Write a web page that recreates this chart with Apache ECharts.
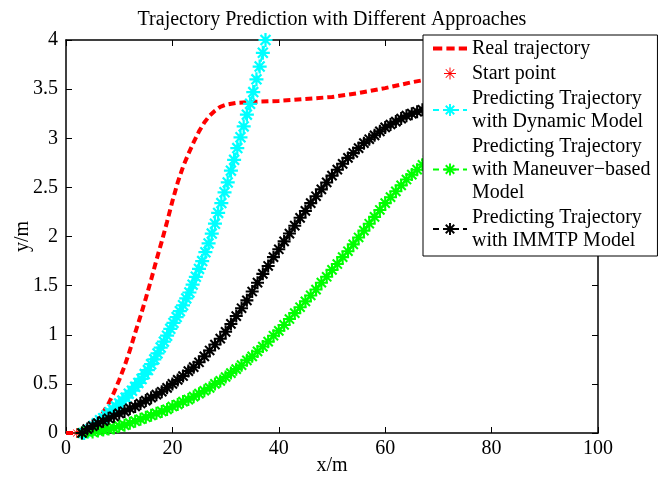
<!DOCTYPE html>
<html>
<head>
<meta charset="utf-8">
<script src="https://cdn.jsdelivr.net/npm/echarts@6/dist/echarts.min.js"></script>
<style>html,body{margin:0;padding:0;background:#fff}#c{width:664px;height:477px}</style>
</head>
<body>
<div id="c"></div>
<script>
const titleText = 'Trajectory Prediction with Different Approaches';
const xTicks = [0, 20, 40, 60, 80, 100];
const yTicks = [0, 0.5, 1, 1.5, 2, 2.5, 3, 3.5, 4];
const seriesNames = ['Real trajectory', 'Start point', 'Dynamic', 'Maneuver', 'IMMTP'];
const legendLabels = {
  'Real trajectory': 'Real trajectory',
  'Start point': 'Start point',
  'Dynamic': 'Predicting Trajectory\nwith Dynamic Model',
  'Maneuver': 'Predicting Trajectory\nwith Maneuver\u2212based\nModel',
  'IMMTP': 'Predicting Trajectory\nwith IMMTP Model'
};

const realTrajectory = [
  [0,0.00],[2,0.00],[4,0.03],[5,0.07],[6,0.13],[7,0.21],[8,0.30],[9,0.41],[10,0.54],
  [11,0.68],[12,0.84],[13,1.02],[14,1.19],[15,1.37],[16,1.56],[17,1.76],[18,1.95],
  [19,2.15],[20,2.36],[21,2.55],[22,2.71],[23,2.84],[24,2.96],[25,3.07],[26,3.16],
  [27,3.23],[28,3.28],[29,3.32],[30,3.34],[32,3.36],[35,3.37],[40,3.38],[45,3.40],
  [50,3.42],[55,3.46],[60,3.51],[65,3.57],[70,3.62],[75,3.66]
];
const startPoint = [[2,0]];
const dynamicModel = [
  [3.4,0.00],[4.0,0.02],[4.6,0.04],[5.2,0.07],[5.8,0.10],[6.4,0.13],[7.0,0.15],[7.6,0.18],
  [8.2,0.21],[8.8,0.24],[9.4,0.27],[10.0,0.30],[10.6,0.33],[11.2,0.36],[11.8,0.40],[12.4,0.43],
  [13.0,0.47],[13.6,0.51],[14.2,0.55],[14.8,0.60],[15.4,0.64],[16.0,0.70],[16.6,0.75],[17.2,0.81],
  [17.8,0.87],[18.4,0.93],[19.0,0.99],[19.6,1.06],[20.2,1.12],[20.8,1.18],[21.4,1.24],[22.0,1.30],
  [22.6,1.37],[23.2,1.43],[23.8,1.51],[24.4,1.59],[25.0,1.67],[25.6,1.75],[26.2,1.84],[26.8,1.93],
  [27.4,2.03],[28.0,2.13],[28.6,2.24],[29.2,2.34],[29.8,2.45],[30.4,2.55],[31.0,2.67],[31.6,2.78],
  [32.2,2.90],[32.8,3.01],[33.4,3.12],[34.0,3.24],[34.6,3.35],[35.2,3.47],[35.8,3.60],[36.4,3.73],
  [37.0,3.87],[37.5,4.00]
];
const maneuverModel = [
  [3,0.00],[4,0.01],[5,0.01],[6,0.02],[7,0.03],[8,0.04],[9,0.05],[10,0.07],[11,0.08],[12,0.10],
  [13,0.12],[14,0.14],[15,0.16],[16,0.18],[17,0.20],[18,0.22],[19,0.24],[20,0.27],[21,0.29],
  [22,0.32],[23,0.34],[24,0.37],[25,0.40],[26,0.43],[27,0.46],[28,0.50],[29,0.53],[30,0.57],
  [31,0.61],[32,0.65],[33,0.69],[34,0.74],[35,0.78],[36,0.83],[37,0.88],[38,0.93],[39,0.99],
  [40,1.04],[41,1.10],[42,1.16],[43,1.22],[44,1.28],[45,1.34],[46,1.40],[47,1.46],[48,1.53],
  [49,1.59],[50,1.66],[51,1.72],[52,1.79],[53,1.85],[54,1.92],[55,1.99],[56,2.06],[57,2.13],
  [58,2.20],[59,2.27],[60,2.34],[61,2.40],[62,2.46],[63,2.52],[64,2.58],[65,2.63],[66,2.68],
  [67,2.73],[68,2.78]
];
const immtpModel = [
  [3,0.00],[4,0.04],[5,0.07],[6,0.10],[7,0.12],[8,0.15],[9,0.17],[10,0.20],[11,0.22],[12,0.25],
  [13,0.27],[14,0.30],[15,0.33],[16,0.36],[17,0.39],[18,0.42],[19,0.46],[20,0.50],[21,0.54],
  [22,0.58],[23,0.63],[24,0.67],[25,0.72],[26,0.78],[27,0.84],[28,0.90],[29,0.96],[30,1.03],
  [31,1.11],[32,1.19],[33,1.27],[34,1.35],[35,1.44],[36,1.53],[37,1.62],[38,1.70],[39,1.79],
  [40,1.87],[41,1.95],[42,2.03],[43,2.11],[44,2.19],[45,2.26],[46,2.34],[47,2.41],[48,2.48],
  [49,2.55],[50,2.62],[51,2.68],[52,2.74],[53,2.80],[54,2.85],[55,2.90],[56,2.95],[57,2.99],
  [58,3.03],[59,3.07],[60,3.11],[61,3.14],[62,3.17],[63,3.20],[64,3.23],[65,3.25],[66,3.27],
  [67,3.29],[68,3.30]
];

const STAR = 'path://M42,0L58,0L58,100L42,100Z M0,42L100,42L100,58L0,58Z M8.94,20.26L20.26,8.94L91.06,79.74L79.74,91.06Z M79.74,8.94L91.06,20.26L20.26,91.06L8.94,79.74Z';
const STAR_THIN = 'path://M46,0L54,0L54,100L46,100Z M0,46L100,46L100,54L0,54Z M11.77,17.43L17.43,11.77L88.23,82.57L82.57,88.23Z M82.57,11.77L88.23,17.43L17.43,88.23L11.77,82.57Z';
const DASH_ICON = 'path://M0,0L9,0L9,4L0,4Z M13,0L21,0L21,4L13,4Z M25,0L33,0L33,4L25,4Z';
const FONT = 'Liberation Serif';

const chart = echarts.init(document.getElementById('c'), null, {renderer: 'canvas'});

function predSeries(name, data, color, size) {
  return {
    name: name, type: 'line', data: data,
    symbol: STAR, symbolSize: size, showSymbol: true, showAllSymbol: true,
    itemStyle: {color: color},
    lineStyle: {color: color, width: 2, type: [6, 4]},
    clip: true
  };
}

const axisCommon = {
  type: 'value',
  axisLine: {show: true, onZero: false, lineStyle: {color: '#000', width: 1.5}},
  axisTick: {show: true, inside: true, length: 6, lineStyle: {color: '#000', width: 1}},
  splitLine: {show: false}
};

chart.setOption({
  animation: false,
  backgroundColor: '#fff',
  title: {
    text: titleText, left: 'center', top: 5,
    textStyle: {fontFamily: FONT, fontSize: 20, fontWeight: 'normal', color: '#000'}
  },
  grid: {left: 66, right: 66, top: 40, bottom: 44, containLabel: false, outerBoundsMode: 'none'},
  legend: {
    orient: 'vertical', left: 423, top: 35,
    data: [
      {name: 'Real trajectory', icon: DASH_ICON},
      'Start point', 'Dynamic', 'Maneuver', 'IMMTP'
    ],
    formatter: function (n) { return legendLabels[n]; },
    itemWidth: 34, itemHeight: 15, itemGap: 2,
    padding: [2, 7, 4, 9],
    backgroundColor: '#fff', borderColor: '#000', borderWidth: 1,
    textStyle: {fontFamily: FONT, fontSize: 20, lineHeight: 23, color: '#000'},
    z: 10
  },
  xAxis: [
    Object.assign({}, axisCommon, {
      min: 0, max: 100, interval: 20, position: 'bottom',
      name: 'x/m', nameLocation: 'middle', nameGap: 23, nameMoveOverlap: false,
      nameTextStyle: {fontFamily: FONT, fontSize: 20, color: '#000'},
      axisLabel: {fontFamily: FONT, fontSize: 20, color: '#000', margin: 6,
        formatter: function (v) { return xTicks.indexOf(v) >= 0 ? String(v) : ''; }}
    }),
    Object.assign({}, axisCommon, {
      min: 0, max: 100, interval: 20, position: 'top', axisLabel: {show: false}
    })
  ],
  yAxis: [
    Object.assign({}, axisCommon, {
      min: 0, max: 4, interval: 0.5, position: 'left',
      name: 'y/m', nameLocation: 'middle', nameGap: 33, nameMoveOverlap: false,
      nameTextStyle: {fontFamily: FONT, fontSize: 20, color: '#000'},
      axisLabel: {fontFamily: FONT, fontSize: 20, color: '#000', margin: 8,
        formatter: function (v) { return yTicks.indexOf(v) >= 0 ? String(v) : ''; }}
    }),
    Object.assign({}, axisCommon, {
      min: 0, max: 4, interval: 0.5, position: 'right', axisLabel: {show: false}
    })
  ],
  series: [
    {
      name: 'Real trajectory', type: 'line', data: realTrajectory,
      symbol: 'none',
      itemStyle: {color: '#ff0000'},
      lineStyle: {color: '#ff0000', width: 4, type: [7, 4]},
      clip: true
    },
    {
      name: 'Start point', type: 'line', data: startPoint,
      symbol: STAR_THIN, symbolSize: 10, showSymbol: true,
      itemStyle: {color: '#ff0000'},
      lineStyle: {width: 0, opacity: 0}
    },
    predSeries('Dynamic', dynamicModel, '#00ffff', 14),
    predSeries('Maneuver', maneuverModel, '#00ff00', 13),
    predSeries('IMMTP', immtpModel, '#000000', 13)
  ]
});
</script>
</body>
</html>
